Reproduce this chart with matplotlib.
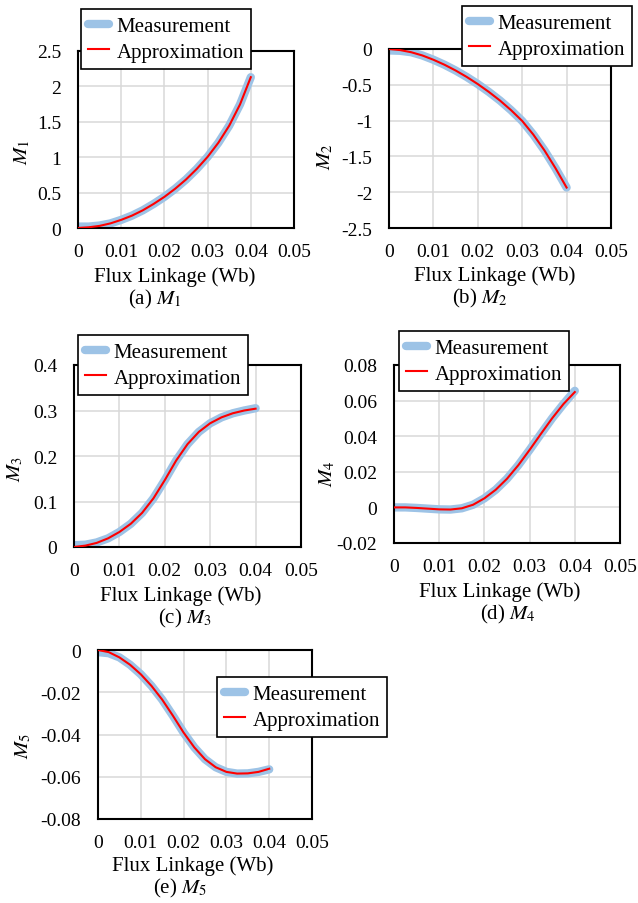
import matplotlib
matplotlib.use('Agg')
import matplotlib.pyplot as plt

plt.rcParams['font.family'] = ['Liberation Serif', 'DejaVu Serif']
plt.rcParams['mathtext.fontset'] = 'stix'

# ---------------- data ----------------
flux = [0.0, 0.0025, 0.005, 0.0075, 0.01, 0.0125, 0.015, 0.0175, 0.02,
        0.0225, 0.025, 0.0275, 0.03, 0.0325, 0.035, 0.0375, 0.04]

m1_meas = [0.02, 0.02, 0.035, 0.065, 0.115, 0.175, 0.25, 0.34, 0.44,
           0.555, 0.685, 0.835, 1.005, 1.205, 1.445, 1.745, 2.13]
m1_appr = [0.0, 0.01, 0.03, 0.065, 0.115, 0.175, 0.25, 0.34, 0.44,
           0.555, 0.685, 0.835, 1.005, 1.205, 1.445, 1.745, 2.13]

m2_meas = [-0.02, -0.025, -0.045, -0.09, -0.15, -0.22, -0.30, -0.39, -0.49,
           -0.60, -0.72, -0.855, -1.005, -1.195, -1.415, -1.665, -1.935]
m2_appr = [0.0, -0.015, -0.045, -0.09, -0.15, -0.22, -0.30, -0.39, -0.49,
           -0.60, -0.72, -0.855, -1.005, -1.195, -1.415, -1.665, -1.935]

m3_meas = [0.004, 0.005, 0.010, 0.019, 0.033, 0.051, 0.075, 0.107, 0.147,
           0.190, 0.226, 0.253, 0.272, 0.285, 0.294, 0.300, 0.305]
m3_appr = [0.0, 0.003, 0.009, 0.019, 0.033, 0.051, 0.075, 0.107, 0.147,
           0.190, 0.226, 0.253, 0.272, 0.285, 0.294, 0.300, 0.304]

m4_meas = [0.0, 0.0, -0.0003, -0.0007, -0.0011, -0.0012, -0.0005, 0.0015, 0.0051,
           0.0099, 0.0161, 0.0237, 0.0323, 0.0413, 0.0501, 0.0581, 0.0655]
m4_appr = [0.0, 0.0, -0.0003, -0.0007, -0.0011, -0.0012, -0.0005, 0.0015, 0.0051,
           0.0099, 0.0161, 0.0237, 0.0323, 0.0413, 0.0501, 0.0581, 0.0648]

m5_meas = [-0.001, -0.0015, -0.0035, -0.007, -0.0115, -0.017, -0.0235, -0.0311, -0.0391,
           -0.0461, -0.0517, -0.0555, -0.0577, -0.0585, -0.0584, -0.0577, -0.0565]
m5_appr = [0.0, -0.001, -0.0035, -0.007, -0.0115, -0.017, -0.0235, -0.0311, -0.0391,
           -0.0461, -0.0517, -0.0555, -0.0577, -0.0585, -0.0584, -0.0577, -0.0562]

x_ticks = [0, 0.01, 0.02, 0.03, 0.04, 0.05]
x_tick_labels = ['0', '0.01', '0.02', '0.03', '0.04', '0.05']

m1_ticks = [0, 0.5, 1, 1.5, 2, 2.5]
m1_labels = ['0', '0.5', '1', '1.5', '2', '2.5']
m2_ticks = [-2.5, -2, -1.5, -1, -0.5, 0]
m2_labels = ['-2.5', '-2', '-1.5', '-1', '-0.5', '0']
m3_ticks = [0, 0.1, 0.2, 0.3, 0.4]
m3_labels = ['0', '0.1', '0.2', '0.3', '0.4']
m4_ticks = [-0.02, 0, 0.02, 0.04, 0.06, 0.08]
m4_labels = ['-0.02', '0', '0.02', '0.04', '0.06', '0.08']
m5_ticks = [-0.08, -0.06, -0.04, -0.02, 0]
m5_labels = ['-0.08', '-0.06', '-0.04', '-0.02', '0']

y_names = ['$M_1$', '$M_2$', '$M_3$', '$M_4$', '$M_5$']
captions = ['(a) $M_1$', '(b) $M_2$', '(c) $M_3$', '(d) $M_4$', '(e) $M_5$']
x_title = 'Flux Linkage (Wb)'
series_names = ['Measurement', 'Approximation']

# ---------------- layout (pixels) ----------------
W, H = 638, 904
fig = plt.figure(figsize=(W / 100, H / 100), dpi=100)


def rect(l, t, r, b):
    return [l / W, 1 - b / H, (r - l) / W, (b - t) / H]


panels = [
    dict(box=(78, 52, 294, 229), meas=m1_meas, appr=m1_appr, yt=m1_ticks, yl=m1_labels,
         leg=(81, 10), ylab=(22, 152), xlab=(175, 277), cap=(155, 299)),
    dict(box=(389, 50, 611, 229), meas=m2_meas, appr=m2_appr, yt=m2_ticks, yl=m2_labels,
         leg=(462, 7), ylab=(325, 157), xlab=(495, 276), cap=(480, 298)),
    dict(box=(74, 366, 301, 548), meas=m3_meas, appr=m3_appr, yt=m3_ticks, yl=m3_labels,
         leg=(78, 336), ylab=(15, 469), xlab=(181, 596), cap=(185, 618)),
    dict(box=(394, 366, 620, 544), meas=m4_meas, appr=m4_appr, yt=m4_ticks, yl=m4_labels,
         leg=(399, 332), ylab=(327, 474), xlab=(500, 592), cap=(508, 614)),
    dict(box=(98, 651, 312, 820), meas=m5_meas, appr=m5_appr, yt=m5_ticks, yl=m5_labels,
         leg=(217, 678), ylab=(23, 746), xlab=(193, 866), cap=(180, 888)),
]

BLUE = '#9dc3e6'
RED = '#ff0000'
FS_TICK = 14
FS_TEXT = 15

for i, p in enumerate(panels):
    ax = fig.add_axes(rect(*p['box']))
    ax.plot(flux, p['meas'], color=BLUE, lw=6, solid_capstyle='round',
            solid_joinstyle='round', label=series_names[0], zorder=2)
    ax.plot(flux, p['appr'], color=RED, lw=1.5, solid_joinstyle='round',
            label=series_names[1], zorder=3)
    ax.set_xlim(0, 0.05)
    ax.set_ylim(p['yt'][0], p['yt'][-1])
    ax.set_xticks(x_ticks)
    ax.set_xticklabels(x_tick_labels)
    ax.set_yticks(p['yt'])
    ax.set_yticklabels(p['yl'])
    ax.grid(True, color='#d9d9d9', lw=1.1)
    ax.set_axisbelow(True)
    ax.tick_params(axis='both', length=0, labelsize=FS_TICK)
    ax.tick_params(axis='x', pad=11)
    ax.tick_params(axis='y', pad=12)
    for s in ax.spines.values():
        s.set_color('black')
        s.set_linewidth(1.5)

    lx, ly = p['leg']
    leg = ax.legend(loc='upper left', bbox_to_anchor=(lx / W, 1 - ly / H),
                    bbox_transform=fig.transFigure, borderaxespad=0,
                    fontsize=FS_TEXT, frameon=True, fancybox=False,
                    edgecolor='black', framealpha=1, handlelength=1.0,
                    handletextpad=0.35, labelspacing=0.3, borderpad=0.35)
    leg.get_frame().set_linewidth(1.2)
    leg.set_zorder(10)

    yx, yy = p['ylab']
    fig.text(yx / W, 1 - yy / H, y_names[i], rotation=90, fontsize=FS_TEXT,
             ha='center', va='center')
    xx, xy = p['xlab']
    fig.text(xx / W, 1 - xy / H, x_title, fontsize=FS_TEXT, ha='center', va='center')
    cx, cy = p['cap']
    fig.text(cx / W, 1 - cy / H, captions[i], fontsize=FS_TEXT, ha='center', va='center')

fig.savefig('out.png', dpi=100)
